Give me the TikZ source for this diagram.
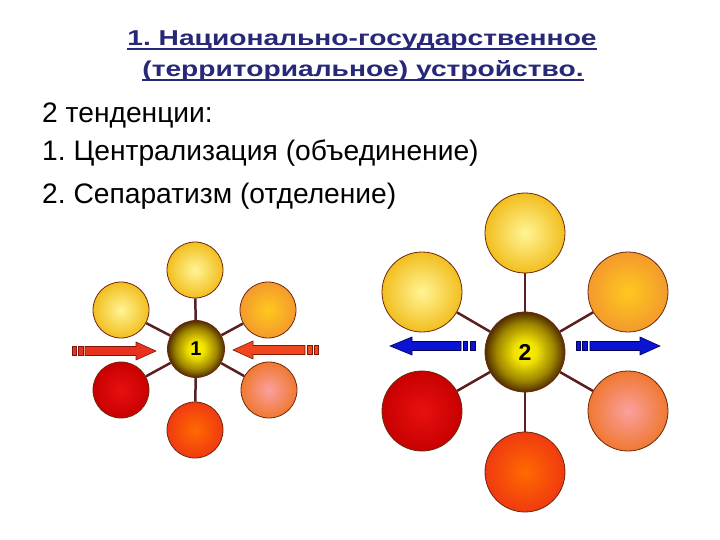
\documentclass[tikz,border=0pt]{standalone}
\usepackage{fontspec}
\setmainfont{Liberation Sans}
\frenchspacing
\definecolor{titleblue}{RGB}{40,40,120}
\definecolor{linkbrown}{RGB}{90,32,32}
\definecolor{rimbrown}{RGB}{110,40,15}
\definecolor{ballyellow}{RGB}{255,242,0}
\definecolor{ballbrown}{RGB}{80,45,0}
\definecolor{redarrow}{RGB}{232,50,30}
\definecolor{redarrowb}{RGB}{240,70,30}
\definecolor{redline}{RGB}{130,20,10}
\definecolor{bluearrow}{RGB}{10,20,210}
\definecolor{blueline}{RGB}{0,0,90}
\pgfdeclareradialshading{centreball}{\pgfpoint{0bp}{0bp}}{%
  color(0bp)=(ballyellow);
  color(7bp)=(ballyellow!92!ballbrown);
  color(18bp)=(ballyellow!45!ballbrown);
  color(25bp)=(ballbrown);
  color(50bp)=(ballbrown)}
\begin{document}
\begin{tikzpicture}[x=1pt,y=-1pt,
  titletext/.style={inner sep=0pt, text=titleblue, font=\bfseries\fontsize{21.5}{24}\selectfont, xscale=1.31, transform shape},
  bodytext/.style={inner sep=0pt, anchor=base west, font=\fontsize{28.2}{32}\selectfont},
  uline/.style={draw=titleblue, line width=2pt},
  ballnode/.style={circle, draw=rimbrown, line width=0.8pt, shading=centreball, font=\bfseries},
  disc/.style={circle, draw=rimbrown, line width=0.8pt, inner sep=0pt, shading=radial},
  smalldisc/.style={disc, minimum size=56pt},
  bigdisc/.style={disc, minimum size=80pt},
  link/.style={draw=linkbrown, line width=2.5pt},
  redbody/.style={fill=redarrow, draw=redline, line width=0.6pt},
  redbodyb/.style={fill=redarrowb, draw=redline, line width=0.6pt},
  bluebody/.style={fill=bluearrow, draw=blueline, line width=0.6pt},
]
\useasboundingbox[fill=white] (0,0) rectangle (720,540);

% title
\node[titletext, anchor=base] (title1) at (362,45.7) {1. Национально-государственное};
\node[titletext, anchor=base] (title2) at (363,76.7) {(территориальное) устройство.};
\draw[uline] ([yshift=-3.8pt]title1.base west) -- ([yshift=-3.8pt]title1.base east);
\draw[uline] ([yshift=-3.8pt]title2.base west) -- ([yshift=-3.8pt]title2.base east);

% body
\node[bodytext] (tend) at (42,123) {2 тенденции:};
\node[bodytext] (cent) at (42,160.7) {1. Централизация (объединение)};
\node[bodytext] (sep) at (42,203.3) {2. Сепаратизм (отделение)};

% left cluster
\node[ballnode, minimum size=57pt, font=\bfseries\fontsize{20}{24}\selectfont] (c1) at (196,349) {1};
\node[smalldisc, inner color={rgb,255:red,255;green,245;blue,150}, outer color={rgb,255:red,242;green,190;blue,30}] (a1) at (195,270) {};
\node[smalldisc, inner color={rgb,255:red,255;green,245;blue,150}, outer color={rgb,255:red,242;green,190;blue,30}] (a2) at (121,310) {};
\node[smalldisc, inner color={rgb,255:red,255;green,200;blue,30}, outer color={rgb,255:red,243;green,154;blue,44}] (a3) at (268,310) {};
\node[smalldisc, inner color={rgb,255:red,232;green,16;blue,16}, outer color={rgb,255:red,200;green,0;blue,0}] (a4) at (121,390) {};
\node[smalldisc, inner color={rgb,255:red,250;green,160;blue,160}, outer color={rgb,255:red,240;green,120;blue,48}] (a5) at (269,390) {};
\node[smalldisc, inner color={rgb,255:red,255;green,106;blue,0}, outer color={rgb,255:red,240;green,58;blue,16}] (a6) at (195,430) {};
\foreach \n in {a1,a2,a3,a4,a5,a6} \draw[link] (c1) -- (\n);

% right cluster
\node[ballnode, minimum size=80pt, font=\bfseries\fontsize{23}{26}\selectfont] (c2) at (525,352) {2};
\node[bigdisc, inner color={rgb,255:red,255;green,245;blue,150}, outer color={rgb,255:red,242;green,190;blue,30}] (b1) at (525,233) {};
\node[bigdisc, inner color={rgb,255:red,255;green,245;blue,150}, outer color={rgb,255:red,242;green,190;blue,30}] (b2) at (422,292) {};
\node[bigdisc, inner color={rgb,255:red,255;green,200;blue,30}, outer color={rgb,255:red,243;green,154;blue,44}] (b3) at (628,292) {};
\node[bigdisc, inner color={rgb,255:red,232;green,16;blue,16}, outer color={rgb,255:red,200;green,0;blue,0}] (b4) at (422,411) {};
\node[bigdisc, inner color={rgb,255:red,250;green,160;blue,160}, outer color={rgb,255:red,240;green,120;blue,48}] (b5) at (628,411) {};
\node[bigdisc, inner color={rgb,255:red,255;green,106;blue,0}, outer color={rgb,255:red,240;green,58;blue,16}] (b6) at (525,472) {};
\foreach \n in {b1,b2,b3,b4,b5,b6} \draw[link] (c2) -- (\n);

% red arrows (inward)
\path[redbody] (72,346.5) rectangle (76,355.5);
\path[redbody] (78.5,346.5) rectangle (83,355.5);
\path[redbody] (85,346.5) -- (136,346.5) -- (136,342) -- (156,351) -- (136,360) -- (136,355.5) -- (85,355.5) -- cycle;
\path[redbodyb] (318,345.5) rectangle (314,354.5);
\path[redbodyb] (312,345.5) rectangle (307,354.5);
\path[redbodyb] (305,345.5) -- (253,345.5) -- (253,341) -- (233,350) -- (253,359) -- (253,354.5) -- (305,354.5) -- cycle;

% blue arrows (outward)
\path[bluebody] (475,341.5) rectangle (470,350.5);
\path[bluebody] (467,341.5) rectangle (463,350.5);
\path[bluebody] (461,341.5) -- (412,341.5) -- (412,337) -- (390,346) -- (412,355) -- (412,350.5) -- (461,350.5) -- cycle;
\path[bluebody] (576,341.5) rectangle (580,350.5);
\path[bluebody] (582.5,341.5) rectangle (587,350.5);
\path[bluebody] (590,341.5) -- (640,341.5) -- (640,337) -- (660,346) -- (640,355) -- (640,350.5) -- (590,350.5) -- cycle;
\end{tikzpicture}
\end{document}
